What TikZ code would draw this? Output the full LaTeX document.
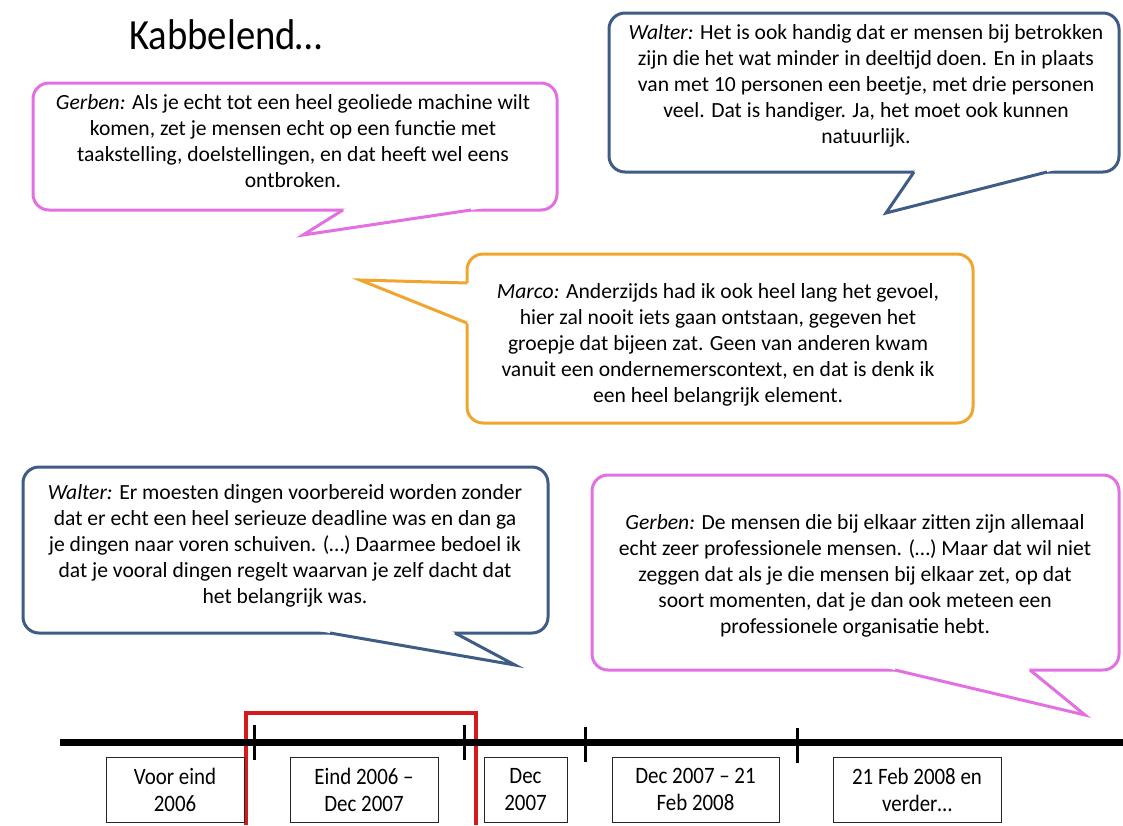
\documentclass[tikz,border=0pt]{standalone}
\usepackage{fontspec}
\usepackage{graphicx}
\setmainfont{Carlito}
\usetikzlibrary{calc}
\definecolor{pinkb}{RGB}{226,112,226}
\definecolor{blueb}{RGB}{62,92,132}
\definecolor{orangeb}{RGB}{240,166,46}
\definecolor{redb}{RGB}{212,26,26}
\newcommand{\sqz}[1]{\scalebox{0.89}[1]{#1}}
\begin{document}
\begin{tikzpicture}[x=1pt,y=-1pt,
  bubble/.style={line width=3pt, fill=white, rounded corners=16pt, inner sep=0pt, rectangle},
  btext/.style={align=center, font=\fontsize{21.6}{26}\selectfont, inner sep=0pt},
  tail/.style={line width=3pt, line join=miter},
  tlbox/.style={draw=black!85, line width=1pt, fill=white, minimum height=65pt, align=center,
                font=\fontsize{23.5}{27}\selectfont, inner sep=0pt},
  tick/.style={line width=3pt}]
\useasboundingbox (0,0) rectangle (1123,825);
\fill[white] (0,0) rectangle (1123,825);

% title
\node[anchor=base west, font=\fontsize{43}{50}\selectfont, inner sep=0pt] (title) at (129,49) {\scalebox{0.9}[1]{Kabbelend…}};

% Gerben 1
\node[bubble, draw=pinkb, minimum width=524pt, minimum height=127pt] (g1box) at (295,146.5) {};
\coordinate (g1a) at (343,210); \coordinate (g1t) at (303,235); \coordinate (g1b) at (471,210);
\fill[white] ($(g1a)!-20pt!(g1t)$) -- (g1t) -- ($(g1b)!-20pt!(g1t)$) -- cycle;
\draw[tail, pinkb] (g1a) -- (g1t) -- (g1b);
\node[btext] (g1) at (293,141) {{\itshape Gerben:} Als je echt tot een heel geoliede machine wilt\\
komen, zet je mensen echt op een functie met\\
taakstelling, doelstellingen, en dat heeft wel eens\\
ontbroken.};

% Walter 1
\node[bubble, draw=blueb, minimum width=510pt, minimum height=159pt] (w1box) at (864,92.5) {};
\coordinate (w1a) at (914,172); \coordinate (w1t) at (886,213); \coordinate (w1b) at (1047,172);
\fill[white] ($(w1a)!-20pt!(w1t)$) -- (w1t) -- ($(w1b)!-20pt!(w1t)$) -- cycle;
\draw[tail, blueb] (w1a) -- (w1t) -- (w1b);
\node[btext] (w1) at (866,86) {{\itshape Walter:} Het is ook handig dat er mensen bij betrokken\\
zijn die het wat minder in deeltijd doen. En in plaats\\
van met 10 personen een beetje, met drie personen\\
veel. Dat is handiger. Ja, het moet ook kunnen\\
natuurlijk.};

% Marco
\node[bubble, draw=orangeb, minimum width=506pt, minimum height=169pt] (m1box) at (720,338.5) {};
\coordinate (m1a) at (467,283); \coordinate (m1t) at (360,280); \coordinate (m1b) at (467,323);
\fill[white] ($(m1a)!-20pt!(m1t)$) -- (m1t) -- ($(m1b)!-20pt!(m1t)$) -- cycle;
\draw[tail, orangeb] (m1a) -- (m1t) -- (m1b);
\node[btext] (m1) at (718,345) {{\itshape Marco:} Anderzijds had ik ook heel lang het gevoel,\\
hier zal nooit iets gaan ontstaan, gegeven het\\
groepje dat bijeen zat. Geen van anderen kwam\\
vanuit een ondernemerscontext, en dat is denk ik\\
een heel belangrijk element.};

% Walter 2
\node[bubble, draw=blueb, minimum width=525pt, minimum height=166pt] (w2box) at (285.5,550) {};
\coordinate (w2a) at (330,633); \coordinate (w2t) at (515,665); \coordinate (w2b) at (455,633);
\fill[white] ($(w2a)!-20pt!(w2t)$) -- (w2t) -- ($(w2b)!-20pt!(w2t)$) -- cycle;
\draw[tail, blueb] (w2a) -- (w2t) -- (w2b);
\node[btext] (w2) at (285,546) {{\itshape Walter:} Er moesten dingen voorbereid worden zonder\\
dat er echt een heel serieuze deadline was en dan ga\\
je dingen naar voren schuiven. (…) Daarmee bedoel ik\\
dat je vooral dingen regelt waarvan je zelf dacht dat\\
het belangrijk was.};

% Gerben 2
\node[bubble, draw=pinkb, minimum width=527pt, minimum height=195pt] (g2box) at (855.5,572.5) {};
\coordinate (g2a) at (895,670); \coordinate (g2t) at (1085,715); \coordinate (g2b) at (1030,670);
\fill[white] ($(g2a)!-20pt!(g2t)$) -- (g2t) -- ($(g2b)!-20pt!(g2t)$) -- cycle;
\draw[tail, pinkb] (g2a) -- (g2t) -- (g2b);
\node[btext] (g2) at (855,576) {{\itshape Gerben:} De mensen die bij elkaar zitten zijn allemaal\\
echt zeer professionele mensen. (…) Maar dat wil niet\\
zeggen dat als je die mensen bij elkaar zet, op dat\\
soort momenten, dat je dan ook meteen een\\
professionele organisatie hebt.};

% timeline
\coordinate (r1) at (246,825); \coordinate (r2) at (246,713);
\coordinate (r3) at (476,713); \coordinate (r4) at (476,825);
\draw[redb, line width=4pt, line join=miter] (r1) -- (r2) -- (r3) -- (r4);

\coordinate (tl0) at (60,742); \coordinate (tl1) at (1123,742);
\draw[line width=7pt] (tl0) -- (tl1);
\coordinate (k1a) at (254,725); \coordinate (k1b) at (254,760);
\coordinate (k2a) at (464,725); \coordinate (k2b) at (464,760);
\coordinate (k3a) at (585,727); \coordinate (k3b) at (585,762);
\coordinate (k4a) at (797,728); \coordinate (k4b) at (797,763);
\draw[tick] (k1a) -- (k1b);
\draw[tick] (k2a) -- (k2b);
\draw[tick] (k3a) -- (k3b);
\draw[tick] (k4a) -- (k4b);

\node[tlbox, minimum width=138pt] (b1) at (175,789.5) {\sqz{Voor eind}\\\sqz{2006}};
\node[tlbox, minimum width=148pt] (b2) at (364,789.5) {\sqz{Eind 2006 –}\\\sqz{Dec 2007}};
\node[tlbox, minimum width=83pt] (b3) at (525.5,789.5) {\sqz{Dec}\\\sqz{2007}};
\node[tlbox, minimum width=167pt] (b4) at (695.5,789.5) {\sqz{Dec 2007 – 21}\\\sqz{Feb 2008}};
\node[tlbox, minimum width=168pt] (b5) at (917,789.5) {\sqz{21 Feb 2008 en}\\\sqz{verder…}};
\end{tikzpicture}
\end{document}
